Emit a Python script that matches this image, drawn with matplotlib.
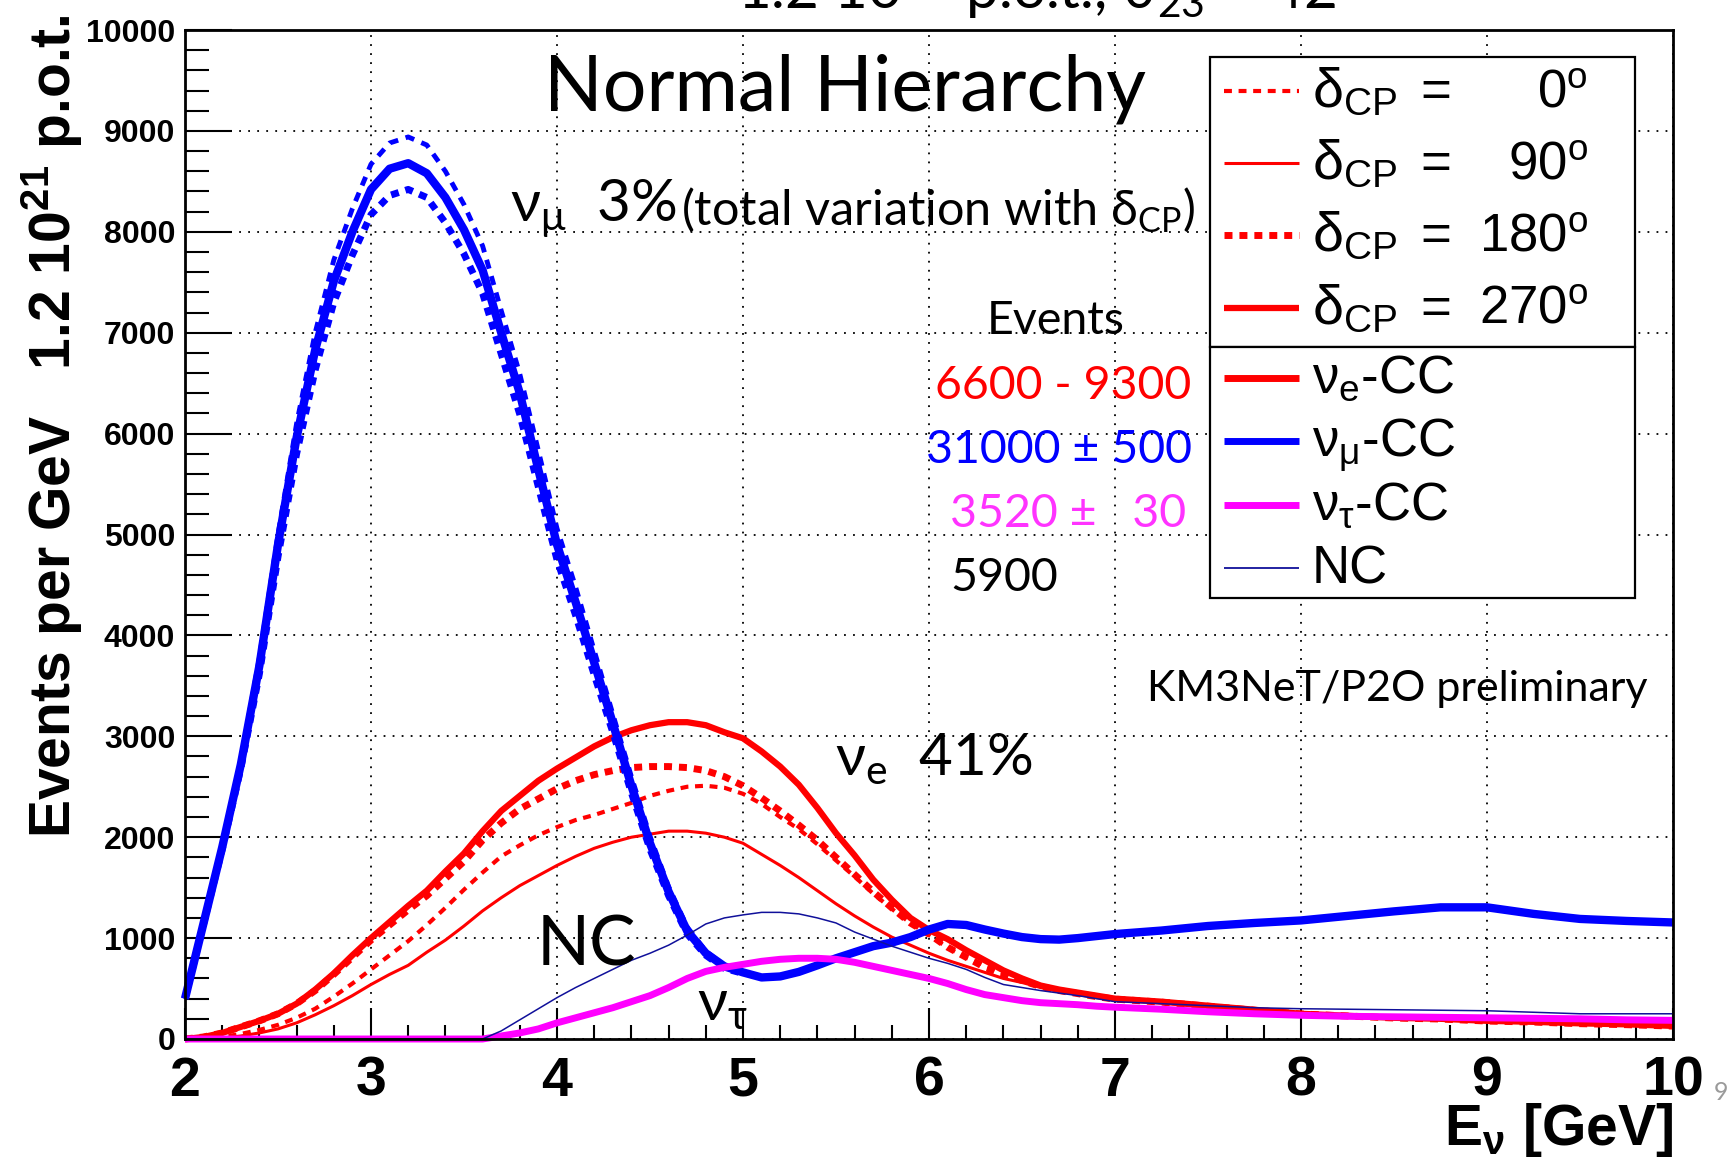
import matplotlib
matplotlib.use('Agg')
import matplotlib.pyplot as plt
from matplotlib.patches import Rectangle
from matplotlib.lines import Line2D
from matplotlib.ticker import MultipleLocator

# ---------------- data ----------------
energy = [2.0, 2.1, 2.2, 2.3, 2.4, 2.5, 2.6, 2.7, 2.8, 2.9,
          3.0, 3.1, 3.2, 3.3, 3.4, 3.5, 3.6, 3.7, 3.8, 3.9,
          4.0, 4.1, 4.2, 4.3, 4.4, 4.5, 4.6, 4.7, 4.8, 4.9,
          5.0, 5.1, 5.2, 5.3, 5.4, 5.5, 5.6, 5.7, 5.8, 5.9,
          6.0, 6.1, 6.2, 6.3, 6.4, 6.5, 6.6, 6.7, 6.8, 6.9,
          7.0, 7.25, 7.5, 7.75, 8.0, 8.25, 8.5, 8.75, 9.0, 9.25, 9.5, 9.75, 10.0]

numu_cc = [400, 1150, 1900, 2720, 3700, 4900, 5960, 6830, 7510, 8000,
           8420, 8625, 8680, 8580, 8340, 8020, 7620, 7000, 6400, 5640,
           4900, 4330, 3730, 3130, 2510, 1940, 1460, 1070, 850, 720,
           660, 610, 620, 665, 730, 800, 860, 920, 955, 1010,
           1085, 1140, 1130, 1085, 1045, 1010, 990, 985, 1000, 1020,
           1040, 1075, 1120, 1150, 1175, 1220, 1265, 1305, 1305, 1240, 1190, 1170, 1155]
numu_cc_dcp0 = [400, 1160, 1920, 2760, 3780, 5000, 6100, 7000, 7720, 8230,
                8670, 8880, 8940, 8860, 8600, 8270, 7860, 7220, 6590, 5830,
                5060, 4480, 3850, 3220, 2600, 2010, 1510, 1110, 870, 730, 665]
numu_cc_dcp180 = [400, 1140, 1880, 2680, 3620, 4780, 5800, 6630, 7300, 7770,
                  8170, 8360, 8420, 8340, 8090, 7780, 7390, 6790, 6190, 5470,
                  4750, 4200, 3610, 3040, 2440, 1880, 1420, 1040, 830, 700, 650]

nue_dcp270 = [0, 20, 60, 120, 180, 250, 350, 490, 650, 830,
              1000, 1160, 1320, 1470, 1660, 1840, 2060, 2260, 2410, 2560,
              2680, 2790, 2900, 2990, 3060, 3110, 3140, 3140, 3110, 3040,
              2980, 2850, 2700, 2520, 2290, 2040, 1820, 1580, 1380, 1200,
              1080, 990, 880, 780, 680, 600, 530, 490, 460, 430,
              400, 370, 330, 290, 250, 230, 210, 200, 180, 170, 155, 145, 130]
nue_dcp180 = [0, 20, 60, 120, 180, 250, 350, 480, 640, 810,
              980, 1130, 1280, 1420, 1590, 1760, 1970, 2140, 2280, 2380,
              2480, 2560, 2620, 2660, 2690, 2700, 2700, 2690, 2660, 2600,
              2510, 2390, 2260, 2120, 1970, 1800, 1630, 1460, 1300, 1150,
              1040, 910, 810, 710, 640, 580, 520, 480, 450, 420,
              395, 365, 325, 285, 248, 228, 208, 198, 178, 168, 152, 142, 128]
nue_dcp0 = [0, 5, 20, 50, 90, 140, 210, 300, 420, 550,
            690, 830, 970, 1130, 1300, 1480, 1650, 1810, 1920, 2020,
            2100, 2170, 2220, 2280, 2340, 2410, 2460, 2500, 2510, 2490,
            2430, 2330, 2200, 2080, 1930, 1770, 1610, 1440, 1290, 1150,
            1030, 905, 805, 730, 650, 580, 520, 480, 450, 420,
            395, 365, 325, 285, 248, 228, 208, 198, 178, 168, 152, 142, 128]
nue_dcp90 = [0, 0, 10, 30, 60, 100, 160, 240, 330, 430,
             540, 640, 730, 860, 980, 1120, 1270, 1400, 1520, 1620,
             1720, 1810, 1890, 1950, 2000, 2030, 2060, 2060, 2040, 2000,
             1940, 1830, 1720, 1600, 1470, 1340, 1220, 1110, 1010, 930,
             850, 780, 720, 660, 600, 560, 510, 470, 440, 410,
             390, 360, 320, 280, 245, 225, 205, 195, 175, 165, 150, 140, 125]

nutau_cc = [0, 0, 0, 0, 0, 0, 0, 0, 0, 0,
            0, 0, 0, 0, 0, 0, 0, 30, 60, 100,
            160, 210, 260, 310, 370, 430, 510, 600, 670, 710,
            740, 770, 790, 800, 800, 790, 760, 720, 680, 640,
            600, 550, 490, 440, 410, 380, 360, 350, 340, 325,
            315, 295, 270, 250, 235, 225, 220, 215, 210, 205, 200, 190, 185]
nc = [0, 0, 0, 0, 0, 0, 0, 0, 0, 0,
      0, 0, 0, 0, 0, 0, 0, 80, 190, 300,
      410, 510, 600, 690, 780, 850, 930, 1030, 1140, 1200,
      1230, 1255, 1255, 1240, 1200, 1150, 1060, 990, 920, 860,
      800, 750, 690, 610, 540, 510, 480, 455, 430, 400,
      370, 350, 330, 310, 300, 295, 290, 285, 280, 265, 250, 250, 250]

xtick_values = [2, 3, 4, 5, 6, 7, 8, 9, 10]
xtick_labels = ['2', '3', '4', '5', '6', '7', '8', '9', '10']
ytick_values = [0, 1000, 2000, 3000, 4000, 5000, 6000, 7000, 8000, 9000, 10000]
ytick_labels = ['0', '1000', '2000', '3000', '4000', '5000', '6000', '7000', '8000', '9000', '10000']

dcp_labels = ['0', '90', '180', '270']
flavour_labels = [r'$\nu_{e}$-CC', r'$\nu_{\mu}$-CC', r'$\nu_{\tau}$-CC', 'NC']
event_texts = ['6600 - 9300', '31000 ± 500', '3520 ±   30', '5900']

# ---------------- style ----------------
RED, BLUE, MAG, NAVY = '#ff0000', '#0000ff', '#ff00ff', '#10109a'
plt.rcParams['font.family'] = ['Liberation Sans', 'DejaVu Sans']
plt.rcParams['mathtext.fontset'] = 'custom'
plt.rcParams['mathtext.rm'] = 'Liberation Sans'
plt.rcParams['mathtext.default'] = 'regular'
CAL = ['Lato', 'DejaVu Sans']

# δCP line styles: (linestyle, linewidth)
STY = {
    '0':   ((0, (1.9, 1.6)), 3.0),
    '90':  ('-', 2.2),
    '180': ((0, (1.15, 1.0)), 5.0),
    '270': ('-', 4.5),
}

W, H = 1729, 1158
AX_L, AX_R, AX_T, AX_B = 185, 1673, 30, 1039
fig = plt.figure(figsize=(W / 100, H / 100), dpi=100)
ax = fig.add_axes([AX_L / W, 1 - AX_B / H, (AX_R - AX_L) / W, (AX_B - AX_T) / H])


def draw(y, color, key, z, lw=None):
    ls, w = STY[key]
    ax.plot(energy[:len(y)], y, color=color, ls=ls, lw=lw if lw else w, zorder=z,
            clip_on=False, solid_capstyle='butt', dash_capstyle='butt')


# nu_e CC curves
draw(nue_dcp90, RED, '90', 3)
draw(nue_dcp0, RED, '0', 3)
draw(nue_dcp180, RED, '180', 3)
draw(nue_dcp270, RED, '270', 3)
# nu_mu CC curves
draw(numu_cc_dcp0, BLUE, '0', 4, lw=3.5)
draw(numu_cc_dcp180, BLUE, '180', 4)
draw(numu_cc, BLUE, '270', 4, lw=6.0)
# nu_tau CC and NC
ax.plot(energy, nutau_cc, color=MAG, lw=5.0, zorder=5, clip_on=False, solid_capstyle='butt')
ax.plot(energy, nc, color=NAVY, lw=1.1, zorder=6, clip_on=False, solid_capstyle='butt')

ax.set_xlim(2, 10)
ax.set_ylim(0, 10000)
ax.set_xticks(xtick_values, labels=xtick_labels, fontsize=40, fontweight='bold')
ax.set_yticks(ytick_values, labels=ytick_labels, fontsize=23, fontweight='bold')
ax.xaxis.set_minor_locator(MultipleLocator(0.2))
ax.yaxis.set_minor_locator(MultipleLocator(200))
ax.tick_params(which='both', direction='in', top=False, right=False, color='black')
ax.tick_params(axis='x', which='major', length=22, width=1.5, pad=12)
ax.tick_params(axis='x', which='minor', length=10, width=1.5)
ax.tick_params(axis='y', which='major', length=34, width=1.5, pad=7)
ax.tick_params(axis='y', which='minor', length=17, width=1.5)
ax.grid(True, which='major', color='black', ls=(0, (1, 4)), lw=1.3)
ax.set_axisbelow(True)
for s in ax.spines.values():
    s.set_linewidth(2.0)
    s.set_zorder(20)


def axf(px, py):
    return ((px - AX_L) / (AX_R - AX_L), (AX_B - py) / (AX_B - AX_T))


# ---------------- legend (two stacked boxes) ----------------
LX0, LX1, LY0, LYD, LY1 = 1210, 1635, 57, 347, 598
for top, bot in ((LY0, LYD), (LYD, LY1)):
    x0, y0 = axf(LX0, bot)
    x1, y1 = axf(LX1, top)
    ax.add_patch(Rectangle((x0, y0), x1 - x0, y1 - y0, transform=ax.transAxes,
                           facecolor='white', edgecolor='black', lw=1.6, zorder=30,
                           clip_on=False))
hx0, hx1, tx, ex, nx = 1224, 1299, 1312, 1420, 1588
LFS = 38
for lab, ry in zip(dcp_labels, [91, 163, 235, 308]):
    ls, w = STY[lab]
    (a0, b0), (a1, _) = axf(hx0, ry), axf(hx1, ry)
    ax.add_line(Line2D([a0, a1], [b0, b0], transform=ax.transAxes, color=RED, ls=ls, lw=w,
                       zorder=31, clip_on=False, solid_capstyle='butt', dash_capstyle='butt'))
    ax.text(*axf(tx, ry + 16), r'$\delta_{CP}$', transform=ax.transAxes, fontsize=LFS + 2,
            va='baseline', ha='left', zorder=32)
    ax.text(*axf(ex, ry + 16), '=', transform=ax.transAxes, fontsize=LFS,
            va='baseline', ha='left', zorder=32)
    ax.text(*axf(nx, ry + 16), lab + r'$^{o}$', transform=ax.transAxes, fontsize=LFS,
            va='baseline', ha='right', zorder=32)
for lab, ry, col, w in zip(flavour_labels, [378, 441, 505, 568],
                           [RED, BLUE, MAG, NAVY], [5.0, 5.0, 5.0, 1.3]):
    (a0, b0), (a1, _) = axf(hx0, ry), axf(hx1, ry)
    ax.add_line(Line2D([a0, a1], [b0, b0], transform=ax.transAxes, color=col, lw=w,
                       zorder=31, clip_on=False, solid_capstyle='butt'))
    ax.text(*axf(tx, ry + 15), lab, transform=ax.transAxes, fontsize=LFS,
            va='baseline', ha='left', zorder=32)

# ---------------- annotations ----------------
def note(px, py, s, size, color='black', ha='left'):
    ax.text(*axf(px, py), s, transform=ax.transAxes, fontsize=size, color=color,
            family=CAL, ha=ha, va='baseline', zorder=25, clip_on=False)


note(845, 110, 'Normal Hierarchy', 55.5, ha='center')
note(510, 221, r'$\nu_{\mu}$  3%', 42)
note(681, 224, r'(total variation with $\delta_{CP}$)', 35)
note(987, 334, 'Events', 33.5)
note(1191, 399, event_texts[0], 33.5, color=RED, ha='right')
note(926, 463, event_texts[1], 33.5, color=BLUE)
note(950, 527, event_texts[2], 33.5, color='#ff33ff')
note(950, 591, event_texts[3], 33.5)
note(1147, 701, 'KM3NeT/P2O preliminary', 31)
note(835, 775, r'$\nu_{e}$  41%', 42)
note(537, 965, 'NC', 50)
note(697, 1020, r'$\nu_{\tau}$', 42)

# title (cut by the top edge), axis labels, page number
fig.text(737 / W, 1 - 9 / H, r'1.2 10$^{21}$ p.o.t., $\theta_{23}$ = 42$^{o}$', family=CAL,
         fontsize=42, ha='left', va='baseline')
fig.text(71 / W, 1 - 838 / H, r'Events per GeV   1.2 10$^{21}$ p.o.t.', rotation=90,
         rotation_mode='anchor', ha='left', va='baseline', fontsize=41, fontweight='bold')
fig.text(AX_R / W, 1 - 1145 / H, r'E$_{\nu}$ [GeV]', ha='right', va='baseline',
         fontsize=41, fontweight='bold')
fig.text(1714 / W, 1 - 1100 / H, '9', color='#9a9a9a', fontsize=18, family=CAL)

fig.savefig('out.png', dpi=100)
